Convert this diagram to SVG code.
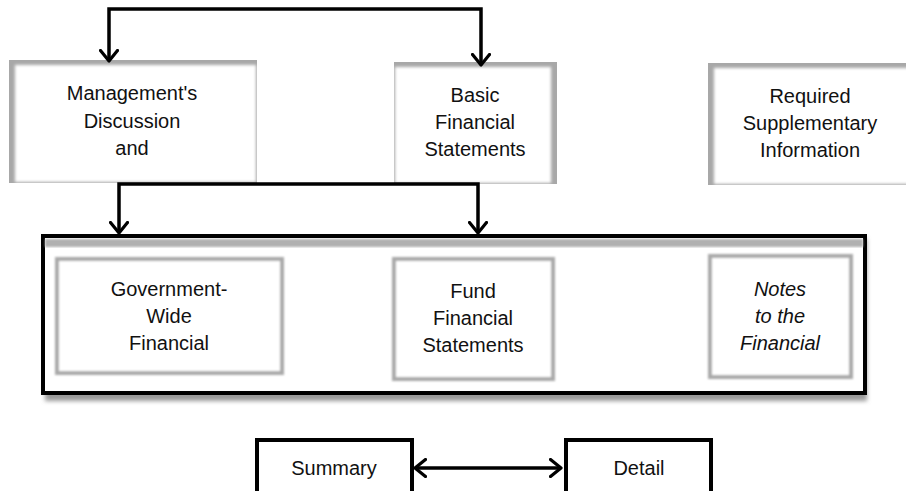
<svg xmlns="http://www.w3.org/2000/svg" width="906" height="491" viewBox="0 0 906 491">
<defs>
<style>
.t{font-family:"Liberation Sans",Arial,sans-serif;font-size:20px;fill:#111;text-anchor:middle}
.ti{font-style:italic}
.conn{fill:none;stroke:#000;stroke-width:3.5}
.sh{fill:#a8a8a8}
.in{fill:#fff;filter:url(#soft)}
.box2{fill:#fff;stroke:#a9a9a9;stroke-width:4;filter:url(#soft1)}
.bx{fill:#fff;stroke:#000;stroke-width:4}
</style>
<filter id="soft" x="-5%" y="-5%" width="110%" height="110%"><feGaussianBlur stdDeviation="1.6"/></filter>
<filter id="soft1" x="-5%" y="-5%" width="110%" height="110%"><feGaussianBlur stdDeviation="0.9"/></filter>
<filter id="soft2" x="-5%" y="-10%" width="110%" height="120%"><feGaussianBlur stdDeviation="2"/></filter>
<marker id="chev" viewBox="0 0 14 20" refX="12" refY="10" markerWidth="14" markerHeight="20" markerUnits="userSpaceOnUse" orient="auto-start-reverse">
<path d="M1.5,1.5 L12,10 L1.5,18.5" fill="none" stroke="#000" stroke-width="3.2" stroke-linejoin="round" stroke-linecap="round"/>
</marker>
</defs>

<g id="md">
<rect class="sh" x="9" y="60" width="248" height="123"/>
<rect class="in" x="15" y="65" width="241" height="117"/>
<text class="t" x="132" y="100">Management's</text>
<text class="t" x="132" y="128">Discussion</text>
<text class="t" x="132" y="155">and</text>
</g>

<g id="basic">
<rect class="sh" x="394" y="62" width="163" height="122"/>
<rect class="in" x="395" y="67" width="156" height="116"/>
<text class="t" x="475" y="102">Basic</text>
<text class="t" x="475" y="129">Financial</text>
<text class="t" x="475" y="156">Statements</text>
</g>

<g id="rsi">
<rect class="sh" x="708" y="63" width="210" height="122"/>
<rect class="in" x="714" y="68" width="204" height="116"/>
<text class="t" x="810" y="103">Required</text>
<text class="t" x="810" y="130">Supplementary</text>
<text class="t" x="810" y="157">Information</text>
</g>

<g id="frame">
<rect x="45" y="239" width="822" height="162" fill="#9a9a9a" filter="url(#soft2)"/>
<rect class="bx" x="43" y="236" width="822" height="157"/>
<rect x="45" y="239" width="818" height="8" fill="#b0b0b0" filter="url(#soft1)"/>
</g>

<g id="gw">
<rect class="box2" x="57" y="259" width="225" height="114"/>
<text class="t" x="169" y="296">Government-</text>
<text class="t" x="169" y="323">Wide</text>
<text class="t" x="169" y="350">Financial</text>
</g>

<g id="fund">
<rect class="box2" x="394" y="259" width="159" height="120"/>
<text class="t" x="473" y="298">Fund</text>
<text class="t" x="473" y="325">Financial</text>
<text class="t" x="473" y="352">Statements</text>
</g>

<g id="notes">
<rect class="box2" x="710" y="256" width="141" height="121"/>
<text class="t ti" x="780" y="296">Notes</text>
<text class="t ti" x="780" y="323">to the</text>
<text class="t ti" x="780" y="350">Financial</text>
</g>

<g id="summary">
<rect class="bx" x="257" y="440" width="155" height="60"/>
<text class="t" x="334" y="475">Summary</text>
</g>

<g id="detail">
<rect class="bx" x="566" y="440" width="145" height="60"/>
<text class="t" x="639" y="475">Detail</text>
</g>

<g id="connectors">
<path class="conn" d="M109,61 V9 H481 V65" marker-start="url(#chev)" marker-end="url(#chev)"/>
<path class="conn" d="M119,233 V184 H478 V233" marker-start="url(#chev)" marker-end="url(#chev)"/>
<path class="conn" d="M415,468 H561" marker-start="url(#chev)" marker-end="url(#chev)"/>
</g>
</svg>
